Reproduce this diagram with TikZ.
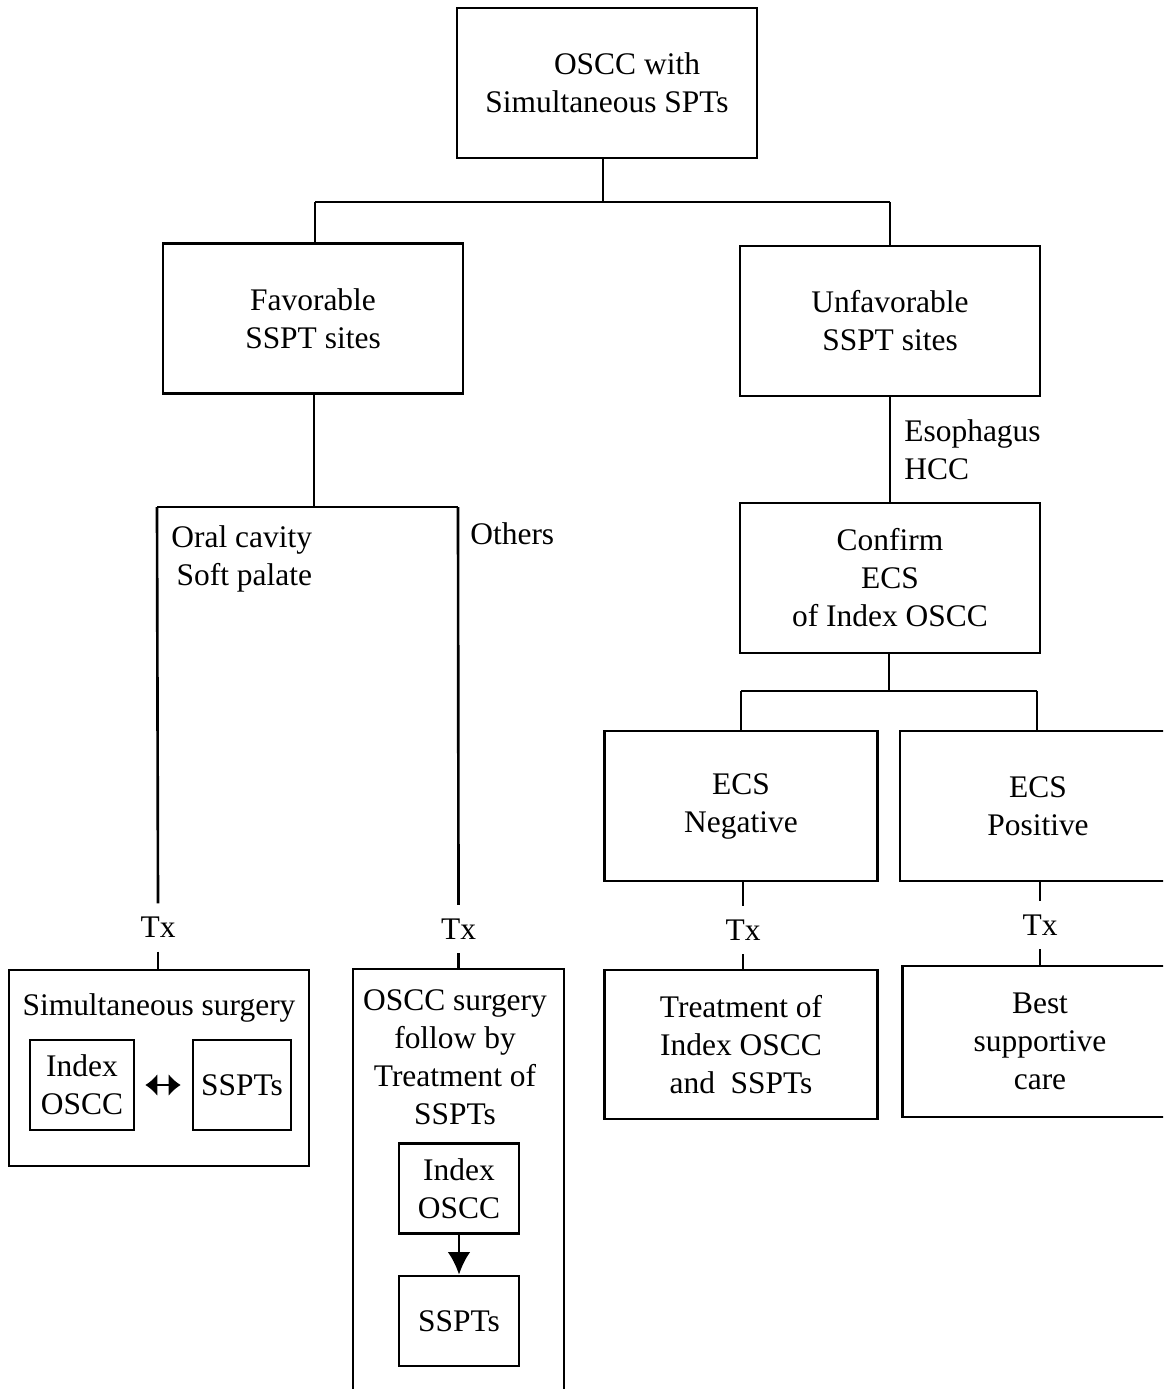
\documentclass[tikz,border=0pt]{standalone}
\usepackage{fontspec}
\setmainfont{Liberation Serif}
\usepackage{tikz}
\usetikzlibrary{arrows.meta}

\begin{document}
\begin{tikzpicture}[
  font=\fontsize{17.9}{21.6}\selectfont,
  box/.style={draw, line width=1.5pt, align=center, inner sep=0pt},
  wide/.style={box, minimum width=6cm, minimum height=3cm},
  ecs/.style={box, minimum width=5.45cm, minimum height=3cm},
  inbox/.style={box, minimum height=1.8cm},
  tx/.style={inner xsep=2pt, inner ysep=0.27cm},
  lbl/.style={align=left, inner sep=0pt, anchor=west},
  link/.style={line width=1.5pt},
  arrow/.style={link, -{Latex[length=0.45cm, width=0.45cm]}},
  both/.style={link, {Latex[length=0.24cm, width=0.45cm]}-{Latex[length=0.24cm, width=0.45cm]},
    shorten <=0.2cm, shorten >=0.22cm},
]
  \useasboundingbox (0,0) rectangle (23.26,-27.78);
  \clip (0,0) rectangle (23.26,-27.78);

  % top of the tree
  \node[wide] (top) at (12.14,-1.66) {\hspace*{0.8cm}OSCC with\\Simultaneous SPTs};
  \node[wide] (fav) at (6.26,-6.37) {Favorable\\SSPT sites};
  \node[wide] (unf) at (17.8,-6.42) {Unfavorable\\SSPT sites};

  \coordinate (topj) at (12.06,-4.04);
  \coordinate (favj) at (6.3,-4.04);
  \coordinate (unfj) at (17.8,-4.04);

  % favorable branch
  \coordinate (favsplit) at (6.28,-10.14);
  \coordinate (oralj) at (3.14,-10.14);
  \coordinate (othj) at (9.16,-10.14);
  \node[lbl] (oral) at (3.42,-11.18) {Oral cavity\\\,Soft palate};
  \node[lbl] (oth) at (9.4,-10.68) {Others};

  \node[tx] (txl) at (3.16,-18.55) {Tx};
  \node[tx] (txm) at (9.17,-18.58) {Tx};

  \node[box, minimum width=6cm, minimum height=3.92cm] (sims) at (3.18,-21.36) {};
  \node (simstitle) at (3.18,-20.16) {Simultaneous surgery};
  \node[inbox, minimum width=2.08cm] (simsidx) at (1.64,-21.7) {Index\\OSCC};
  \node[inbox, minimum width=1.96cm] (simssp) at (4.84,-21.7) {SSPTs};

  \node[box, minimum width=4.22cm, minimum height=8.8cm] (seq) at (9.17,-23.78) {};
  \node[align=center] (seqtitle) at (9.1,-21.14) {OSCC surgery\\follow by\\Treatment of\\SSPTs};
  \node[inbox, minimum width=2.4cm] (seqidx) at (9.18,-23.77) {Index\\OSCC};
  \node[inbox, minimum width=2.4cm] (seqsp) at (9.18,-26.42) {SSPTs};

  % unfavorable branch
  \node[lbl] (eso) at (18.08,-8.99) {Esophagus\\HCC};
  \node[wide] (conf) at (17.8,-11.56) {Confirm\\ECS\\of Index OSCC};

  \coordinate (confj) at (17.78,-13.82);
  \coordinate (negj) at (14.82,-13.82);
  \coordinate (posj) at (20.74,-13.82);

  \node[ecs] (neg) at (14.82,-16.12) {ECS\\Negative};
  \node[ecs, minimum width=5.52cm] (pos) at (20.76,-16.12) {ECS\\Positive};

  \node[tx] (txn) at (14.86,-18.6) {Tx};
  \node[tx] (txp) at (20.8,-18.5) {Tx};

  \node[ecs, minimum height=2.98cm] (treat) at (14.82,-20.89) {Treatment of\\Index OSCC\\and \ SSPTs};
  \node[ecs, minimum width=5.5cm, minimum height=3.02cm] (best) at (20.8,-20.83) {Best\\supportive\\care};

  % connectors
  \draw[link] (top.south -| topj) -- (topj);
  \draw[link] (favj) -- (unfj);
  \draw[link] (favj) -- (favj |- fav.north);
  \draw[link] (unfj) -- (unf.north);
  \draw[link] (fav.south -| favsplit) -- (favsplit);
  \draw[link] (oralj) -- (othj);
  \draw[link] (oralj) -- (txl.north);
  \draw[link] (othj) -- (txm.north);
  \draw[link] (txl.south) -- (txl.south |- sims.north);
  \draw[link] (txm.south) -- (txm.south |- seq.north);
  \draw[both] (simsidx) -- (simssp);
  \draw[arrow] (seqidx) -- (seqsp);

  \draw[link] (unf.south) -- (conf.north);
  \draw[link] (conf.south -| confj) -- (confj);
  \draw[link] (negj) -- (posj);
  \draw[link] (negj) -- (neg.north);
  \draw[link] (posj) -- (posj |- pos.north);
  \draw[link] (txn.north |- neg.south) -- (txn.north);
  \draw[link] (txn.south) -- (txn.south |- treat.north);
  \draw[link] (txp.north |- pos.south) -- (txp.north);
  \draw[link] (txp.south) -- (txp.south |- best.north);
\end{tikzpicture}
\end{document}
